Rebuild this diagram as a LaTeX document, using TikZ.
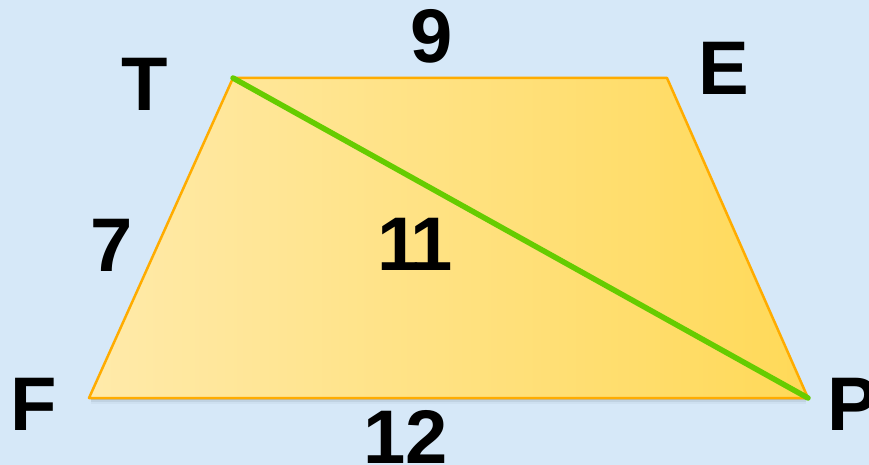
\documentclass[tikz,border=0pt]{standalone}
\usepackage{fontspec}
\setmainfont{Liberation Sans}
\usetikzlibrary{calc}
\definecolor{mybg}{RGB}{214,232,248}
\definecolor{mylight}{RGB}{255,234,170}
\definecolor{mydark}{RGB}{255,217,88}
\definecolor{myedge}{RGB}{255,172,0}
\definecolor{mygreen}{RGB}{102,204,0}
\definecolor{myshadow}{RGB}{120,135,150}
\tikzset{lbl/.style={inner sep=0pt, font=\fontsize{76}{76}\selectfont\bfseries}}

\begin{document}
\begin{tikzpicture}[x=1pt, y=-1pt]
            \fill[mybg] (0,0) rectangle (869,465);
            \useasboundingbox (0,0) rectangle (869,465);
            \coordinate (T) at (233,78);
            \coordinate (E) at (667,78);
            \coordinate (F) at (89,398);
            \coordinate (P) at (808,398);
            % soft shadow under the bottom edge
            \foreach \d/\o in {2/0.25, 4/0.15, 6/0.08}
                \fill[myshadow, opacity=\o] ($(F)+(2,0)$) -- ($(P)+(-2,0)$) -- ($(P)+(-2,\d)$) -- ($(F)+(2,\d)$) -- cycle;
            \shade[left color=mylight, right color=mydark, draw=myedge, line width=2.5pt, line join=round]
                (F) -- (T) -- (E) -- (P) -- cycle;
            \draw[mygreen, line width=5.5pt, line cap=round] (T) -- (P);
            \node[lbl] (lT) at (145,84) {T};
            \node[lbl] (lE) at (724,68) {E};
            \node[lbl] (lF) at (34,404) {F};
            \node[lbl] (lP) at (853,404) {P};
            \node[lbl] (l9) at (432,36) {9};
            \node[lbl] (l7) at (112,245) {7};
            \node[lbl] (l11) at (415,244) {1\kern-9pt1};
            \node[lbl] (l12) at (406,437) {12};
        \end{tikzpicture}
\end{document}
